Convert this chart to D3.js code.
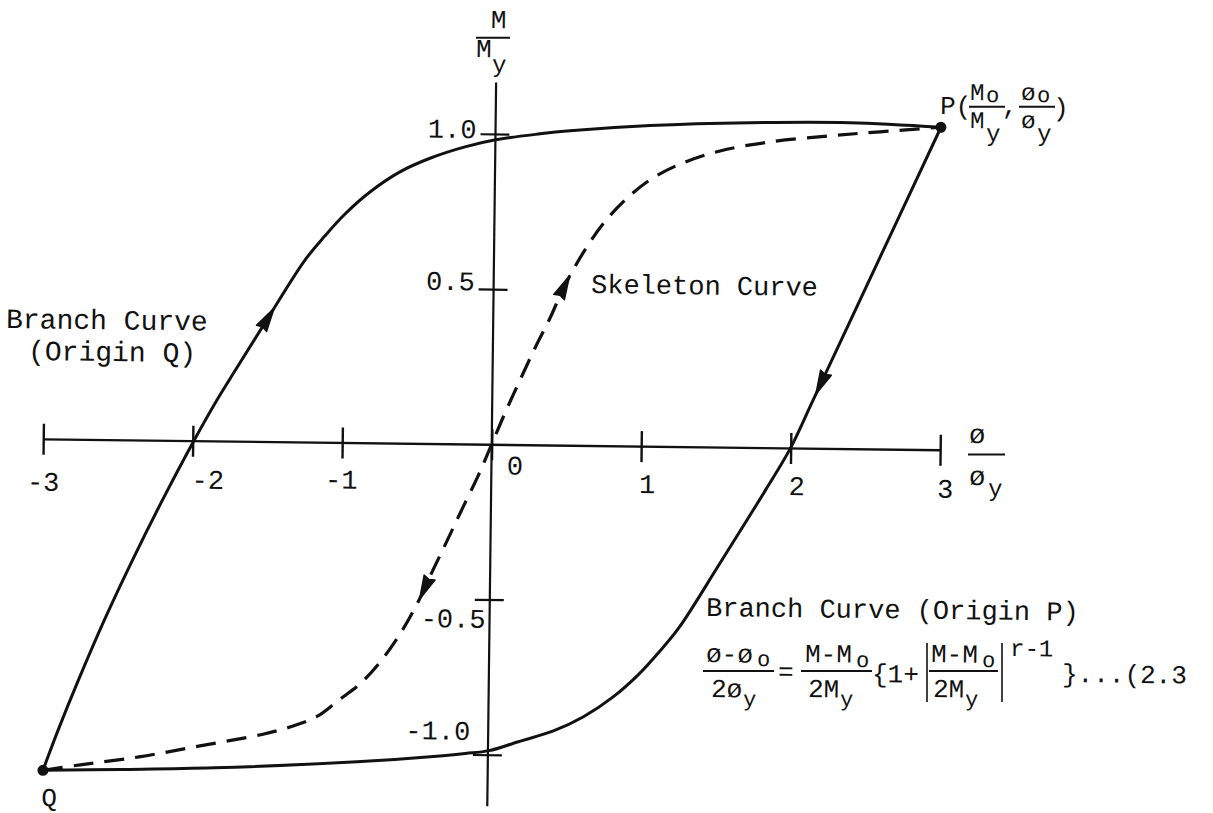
<!DOCTYPE html>
<html>
<head>
<meta charset="utf-8">
<title>Moment–curvature loop</title>
<script src="https://cdn.jsdelivr.net/npm/d3@7/dist/d3.min.js"></script>
<style>
  html, body { margin: 0; padding: 0; background: #fff; }
  svg { display: block; }
  text { font-family: "Liberation Mono", "DejaVu Sans Mono", monospace; fill: #111; }
</style>
</head>
<body>
<svg id="chart" width="1213" height="813"></svg>
<script>
// ---- data: x = φ/φy, y = M/My ----
const xTicks = [-3, -2, -1, 0, 1, 2, 3];
const xTickLabels = ["-3", "-2", "-1", "0", "1", "2", "3"];
const yTicks = [1.0, 0.5, -0.5, -1.0];
const yTickLabels = ["1.0", "0.5", "-0.5", "-1.0"];

const pointP = [2.979, 1.039];
const pointQ = [-2.975, -1.068];

// branch curve with origin Q (loading from Q up to P)
const branchQ = [
  [-2.975, -1.068], [-2.876, -0.937], [-2.745, -0.776], [-2.576, -0.581],
  [-2.393, -0.387], [-2.197, -0.192], [-1.992, 0.000], [-1.841, 0.132],
  [-1.720, 0.229], [-1.523, 0.385], [-1.264, 0.586], [-1.132, 0.665],
  [-1.000, 0.736], [-0.835, 0.808], [-0.636, 0.874], [-0.436, 0.919],
  [-0.203, 0.957], [0.002, 0.981], [0.298, 1.002], [0.498, 1.013],
  [1.033, 1.033], [1.701, 1.046], [2.370, 1.050], [2.979, 1.039]
];

// branch curve with origin P (unloading from P down to Q)
const branchP = [
  [2.979, 1.039], [2.488, 0.518], [2.146, 0.155], [1.996, -0.003],
  [1.841, -0.132], [1.720, -0.229], [1.523, -0.385], [1.264, -0.586],
  [1.132, -0.665], [1.000, -0.736], [0.835, -0.808], [0.636, -0.874],
  [0.436, -0.921], [0.203, -0.957], [0.007, -0.987], [-0.150, -0.997],
  [-0.300, -1.005], [-0.875, -1.028], [-1.831, -1.053], [-2.460, -1.062],
  [-2.975, -1.068]
];

// skeleton curve through the origin, Q to P
const skeleton = [
  [-2.975, -1.068], [-2.714, -1.048], [-2.334, -1.021], [-1.927, -0.983],
  [-1.499, -0.942], [-1.286, -0.912], [-1.140, -0.882], [-1.001, -0.830],
  [-0.861, -0.777], [-0.729, -0.706], [-0.598, -0.615], [-0.480, -0.511],
  [-0.382, -0.407], [-0.291, -0.313], [-0.193, -0.210], [-0.089, -0.103],
  [0.000, 0.000], [0.086, 0.101], [0.184, 0.208], [0.282, 0.312],
  [0.380, 0.409], [0.477, 0.516], [0.608, 0.630], [0.726, 0.714],
  [0.872, 0.792], [1.037, 0.858], [1.237, 0.910], [1.503, 0.954],
  [1.837, 0.985], [2.238, 1.007], [2.572, 1.022], [2.979, 1.039]
];

// direction arrows along the curves
const arrowCurve = ["branchQ", "branchP", "skeleton", "skeleton"];
const arrowAt = [[-1.50, 0.39], [2.20, 0.21], [0.47, 0.51], [-0.45, -0.46]];
const arrowDir = [1, 1, 1, -1];

// ---- layout ----
const origin = [491.7, 444.3];
const tilt = 0.7;                       // the whole sheet sits slightly turned
const rad = tilt * Math.PI / 180;
const yAxisReach = 1.166;               // vertical axis runs past ±1

// screen position -> position inside the turned group
function local(sx, sy) {
  const dx = sx - origin[0], dy = sy - origin[1];
  return [dx * Math.cos(rad) + dy * Math.sin(rad), -dx * Math.sin(rad) + dy * Math.cos(rad)];
}

const x = d3.scaleLinear().domain([-3, 3]).range([-448.5, 448.5]);
const y = d3.scaleLinear().domain([-1, 1]).range([310.4, -310.4]);

const svg = d3.select("#chart");
svg.append("rect").attr("width", 1213).attr("height", 813).attr("fill", "#fff");
const g = svg.append("g").attr("transform", `translate(${origin[0]},${origin[1]}) rotate(${tilt})`);

const ink = "#111";

// ---- horizontal axis ----
const xLabelNudge = { "-3": [0, 52], "-2": [15, 48], "-1": [-1, 46], "0": [23, 30], "1": [6, 47], "2": [6, 47], "3": [5, 48] };
const xAxis = d3.axisBottom(x).tickValues(xTicks).tickSizeOuter(0)
  .tickFormat((d, i) => xTickLabels[i]);
const gx = g.append("g").call(xAxis);
gx.select(".domain").attr("stroke", ink).attr("stroke-width", 2.4);
gx.selectAll(".tick line").attr("stroke", ink).attr("stroke-width", 2.4).attr("y1", -15).attr("y2", 16);
gx.selectAll(".tick text")
  .attr("font-family", null).attr("font-size", 27).attr("fill", ink)
  .attr("dy", null)
  .attr("x", (d, i) => xLabelNudge[xTickLabels[i]][0])
  .attr("y", (d, i) => xLabelNudge[xTickLabels[i]][1]);

// ---- vertical axis ----
const yLabelNudge = { "1.0": [-19, 4], "0.5": [-19, 1], "-0.5": [-4, 28], "-1.0": [-18, -15] };
g.append("line")
  .attr("x1", 0).attr("x2", 0)
  .attr("y1", y(yAxisReach)).attr("y2", y(-yAxisReach))
  .attr("stroke", ink).attr("stroke-width", 2.2);
const yAxis = d3.axisLeft(y).tickValues(yTicks).tickSizeOuter(0)
  .tickFormat((d, i) => yTickLabels[i]);
const gy = g.append("g").call(yAxis);
gy.select(".domain").remove();
gy.selectAll(".tick line").attr("stroke", ink).attr("stroke-width", 2.2).attr("x1", -15).attr("x2", 14);
gy.selectAll(".tick text")
  .attr("font-family", null).attr("font-size", 27).attr("fill", ink)
  .attr("dy", null).attr("text-anchor", "end")
  .attr("x", (d, i) => yLabelNudge[yTickLabels[i]][0])
  .attr("y", (d, i) => yLabelNudge[yTickLabels[i]][1]);

// ---- curves ----
const line = d3.line().x(d => x(d[0])).y(d => y(d[1])).curve(d3.curveCatmullRom.alpha(0.5));
const curves = {};
curves.branchQ = g.append("path").datum(branchQ).attr("d", line)
  .attr("fill", "none").attr("stroke", ink).attr("stroke-width", 3).attr("stroke-linejoin", "round");
curves.branchP = g.append("path").datum(branchP).attr("d", line)
  .attr("fill", "none").attr("stroke", ink).attr("stroke-width", 3).attr("stroke-linejoin", "round");
curves.skeleton = g.append("path").datum(skeleton).attr("d", line)
  .attr("fill", "none").attr("stroke", ink).attr("stroke-width", 3.2)
  .attr("stroke-dasharray", "20,11");

// ---- arrowheads, oriented along their curve ----
function poseOn(node, px, py) {
  const len = node.getTotalLength();
  let best = 0, bd = Infinity;
  for (let l = 0; l <= len; l += 1) {
    const p = node.getPointAtLength(l);
    const d = (p.x - px) ** 2 + (p.y - py) ** 2;
    if (d < bd) { bd = d; best = l; }
  }
  const a = node.getPointAtLength(Math.max(0, best - 4));
  const b = node.getPointAtLength(Math.min(len, best + 4));
  const c = node.getPointAtLength(best);
  return { x: c.x, y: c.y, angle: Math.atan2(b.y - a.y, b.x - a.x) * 180 / Math.PI };
}
arrowAt.forEach((pt, i) => {
  const pose = poseOn(curves[arrowCurve[i]].node(), x(pt[0]), y(pt[1]));
  const ang = pose.angle + (arrowDir[i] < 0 ? 180 : 0);
  g.append("path")
    .attr("d", "M13,0 L-11,-6 L-9,0 L-11,6 Z")
    .attr("transform", `translate(${pose.x},${pose.y}) rotate(${ang})`)
    .attr("fill", ink).attr("stroke", ink).attr("stroke-width", 1.4).attr("stroke-linejoin", "round");
});

// ---- end points ----
[pointP, pointQ].forEach(p => {
  g.append("circle").attr("cx", x(p[0])).attr("cy", y(p[1])).attr("r", 5.5).attr("fill", ink);
});

// ---- text helpers (screen positions) ----
function txt(sx, sy, s, size, anchor) {
  const p = local(sx, sy);
  return g.append("text").attr("x", p[0]).attr("y", p[1])
    .attr("font-size", size || 27).attr("text-anchor", anchor || "start").text(s);
}
function bar(x1, x2, sy, w) {
  const a = local(x1, sy), b = local(x2, sy);
  g.append("line").attr("x1", a[0]).attr("y1", a[1]).attr("x2", b[0]).attr("y2", b[1])
    .attr("stroke", ink).attr("stroke-width", w || 2);
}
function vbar(sx, y1, y2) {
  const a = local(sx, y1), b = local(sx, y2);
  g.append("line").attr("x1", a[0]).attr("y1", a[1]).attr("x2", b[0]).attr("y2", b[1])
    .attr("stroke", ink).attr("stroke-width", 1.6);
}

// axis titles
txt(498.5, 28, "M", 26, "middle");
bar(476, 510, 37.7);
txt(476, 57, "M", 26);
txt(492, 72, "y", 24);

txt(969, 443, "ø", 27);
bar(968, 1005, 454.6);
txt(969, 485, "ø", 27);
txt(988, 496, "y", 24);

// point labels
txt(940, 114, "P(", 26);
txt(970, 100, "M", 24); txt(986, 102, "o", 22);
bar(969, 1005, 106.7);
txt(970, 128, "M", 24); txt(986, 141, "y", 24);
txt(1002, 114, ",", 26);
txt(1021, 100, "ø", 24); txt(1037, 102, "o", 22);
bar(1019, 1055, 106.7);
txt(1021, 128, "ø", 24); txt(1037, 141, "y", 24);
txt(1053, 116, ")", 26);

txt(49, 806, "Q", 26, "middle");

// curve names
txt(6, 328, "Branch Curve", 28);
txt(28, 360, "(Origin Q)", 28);
txt(591, 293, "Skeleton Curve", 27);
txt(706, 616, "Branch Curve (Origin P)", 27);

// branch curve equation (2.3)
txt(706, 662, "ø-ø", 26); txt(757, 666, "o", 22);
bar(703, 774, 671);
txt(711, 697, "2ø", 26); txt(743, 706, "y", 22);
txt(778, 680, "=", 26);
txt(805, 662, "M-M", 26); txt(856, 667, "o", 22);
bar(801, 872, 671);
txt(808, 697, "2M", 26); txt(840, 706, "y", 22);
txt(872, 682, "{1+", 26);
vbar(927, 643, 702);
txt(931, 662, "M-M", 26); txt(982, 667, "o", 22);
bar(929, 998, 671);
txt(933, 697, "2M", 26); txt(965, 706, "y", 22);
vbar(1002, 643, 702);
txt(1010, 656, "r-1", 24);
txt(1062, 682, "}...(2.3", 26);
</script>
</body>
</html>
